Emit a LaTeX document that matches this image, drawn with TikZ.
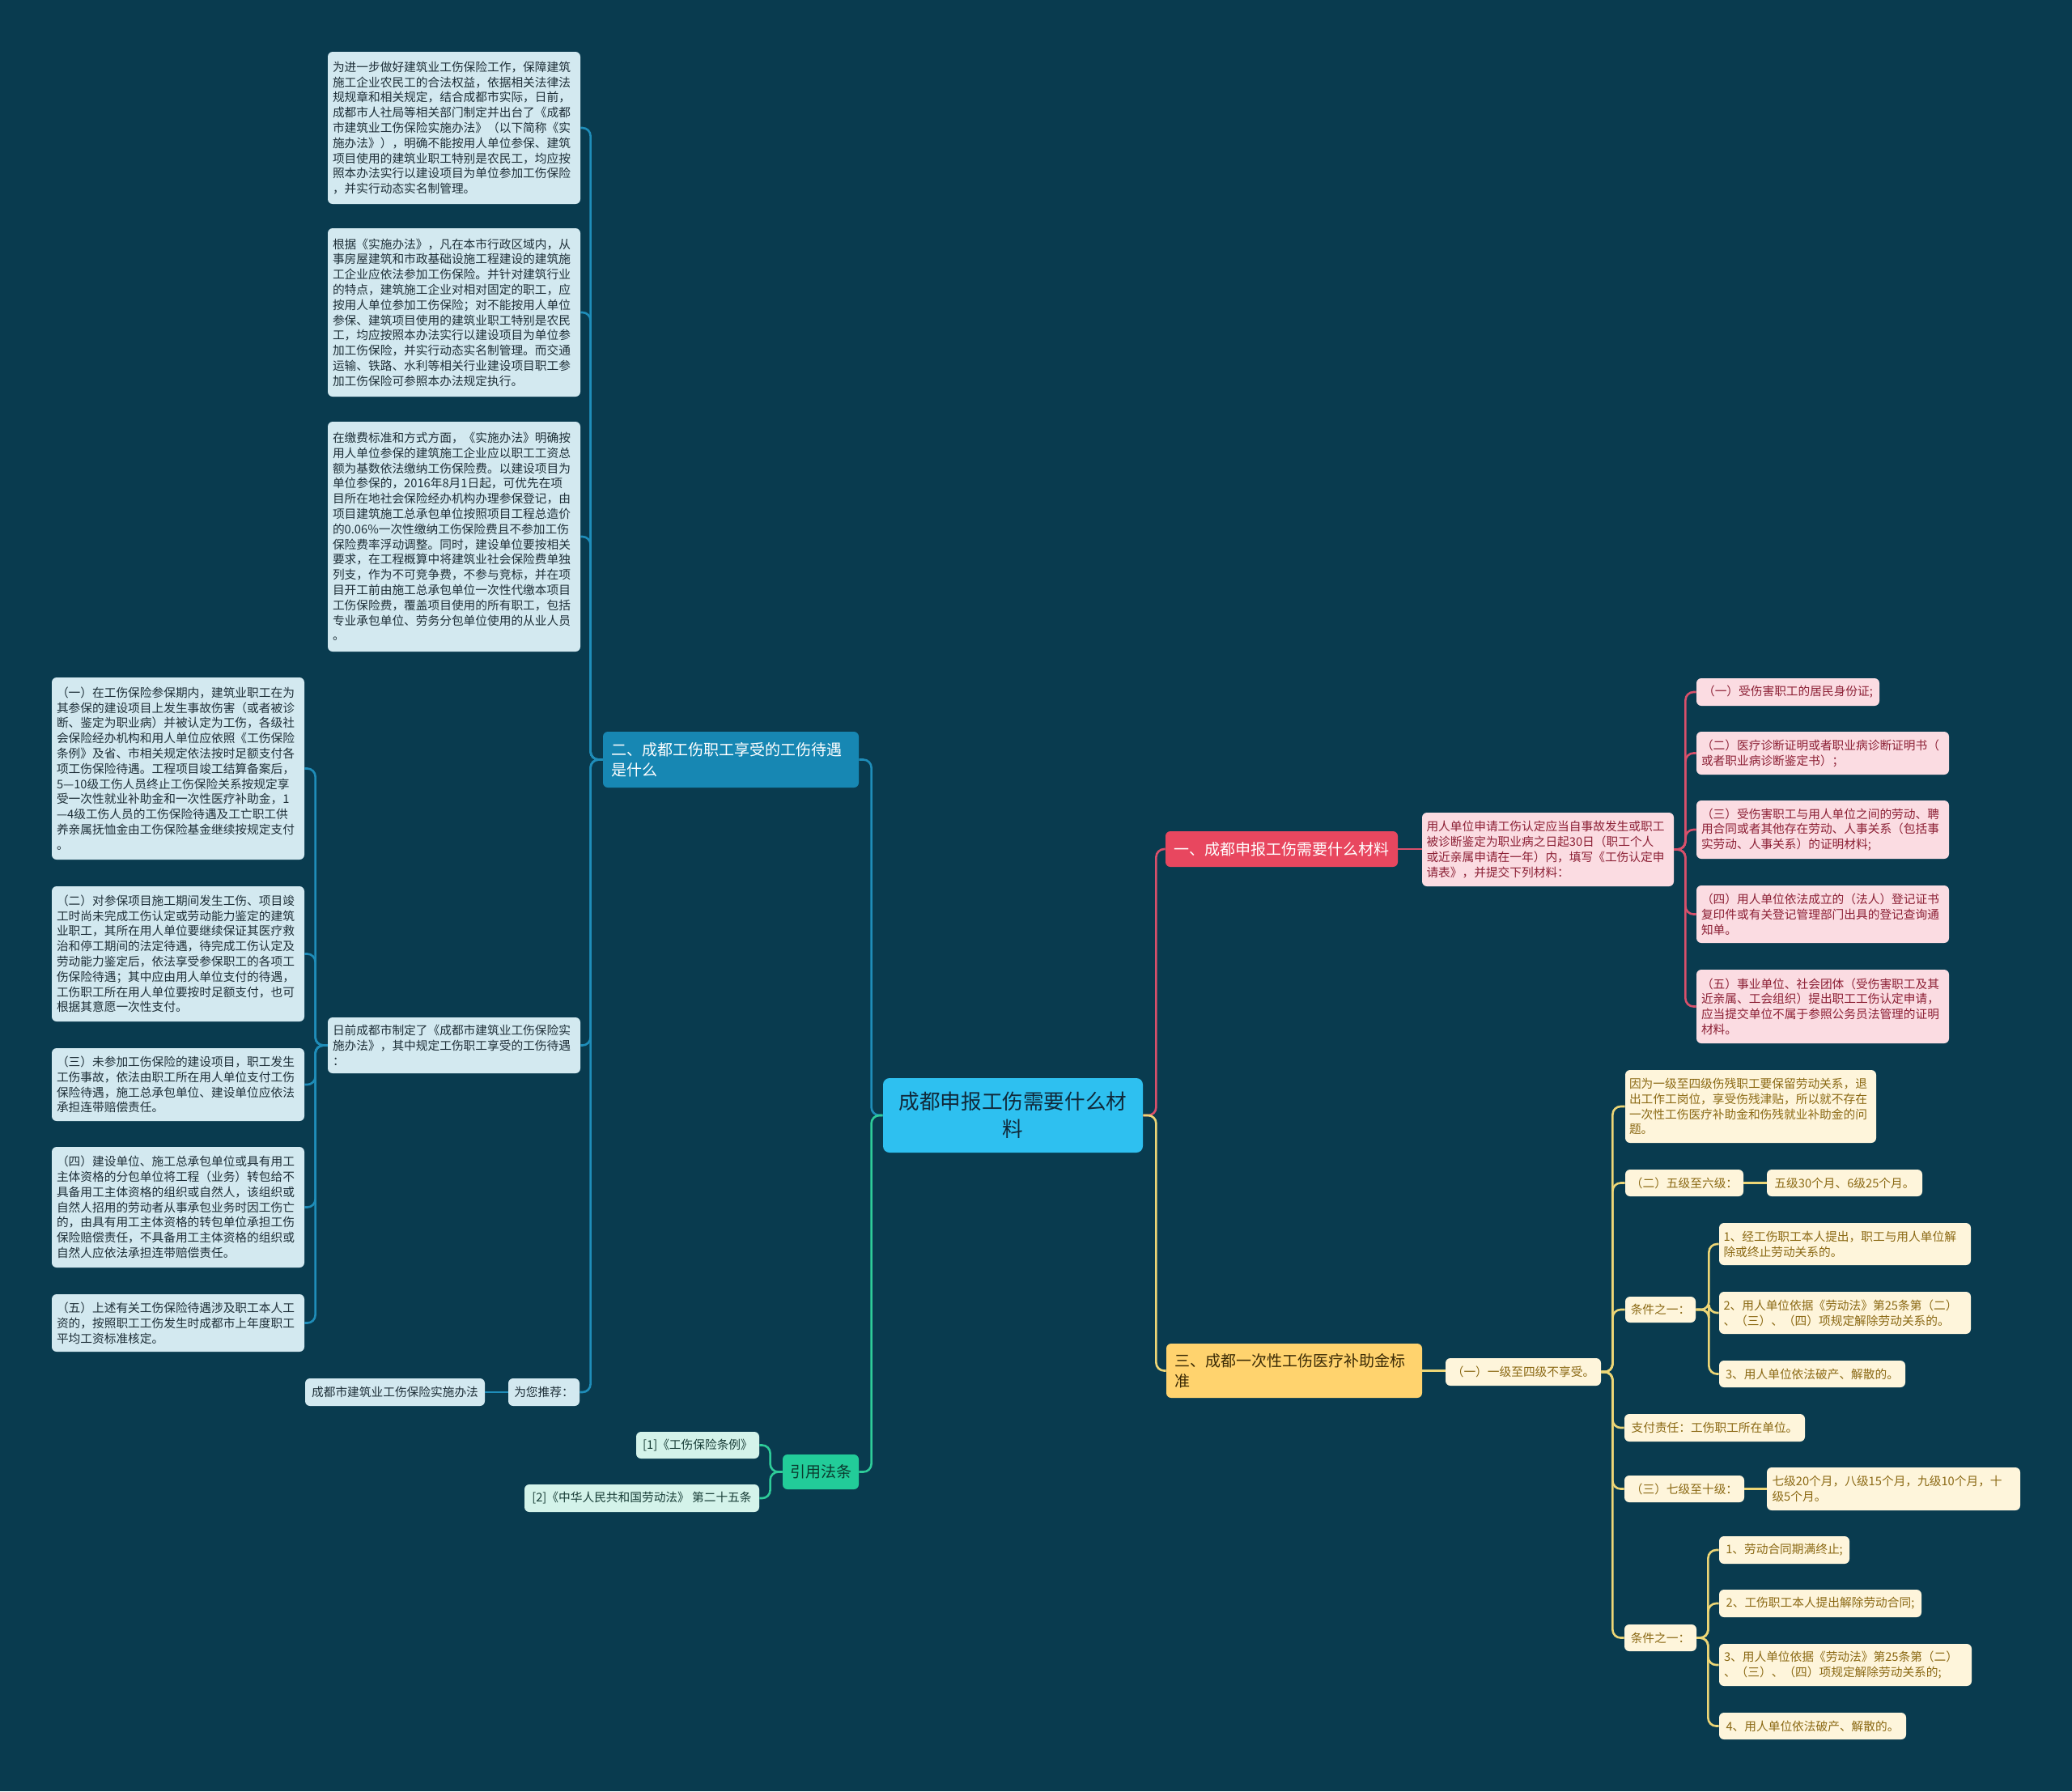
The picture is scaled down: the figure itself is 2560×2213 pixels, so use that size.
\documentclass[tikz,border=0pt]{standalone}
\usepackage{fontspec}
\newfontfamily\cjk{Noto Sans CJK SC}
\definecolor{bg}{HTML}{093B4F}
\definecolor{cenfill}{HTML}{2EC0F0}
\definecolor{centext}{HTML}{10293A}
\definecolor{bbfill}{HTML}{1787B3}
\definecolor{lbfill}{HTML}{D3E9F0}
\definecolor{lbtext}{HTML}{1E2F38}
\definecolor{bline}{HTML}{1F8DB9}
\definecolor{pkfill}{HTML}{E8475F}
\definecolor{lpfill}{HTML}{FBDCE2}
\definecolor{lptext}{HTML}{8C2035}
\definecolor{pline}{HTML}{D9506B}
\definecolor{ylfill}{HTML}{FFD36E}
\definecolor{yltext}{HTML}{3A2A05}
\definecolor{lyfill}{HTML}{FEF5DB}
\definecolor{lytext}{HTML}{8B6914}
\definecolor{yline}{HTML}{EDD676}
\definecolor{grfill}{HTML}{22CC99}
\definecolor{grtext}{HTML}{0B3B30}
\definecolor{lgfill}{HTML}{D4F3EA}
\definecolor{lgtext}{HTML}{173C36}
\definecolor{gline}{HTML}{2ECC99}
\tikzset{
  place/.style n args={4}{at={({(#1+#3)/2},{(#2+#4)/2})},minimum width={(#3-#1)*0.5pt},minimum height={(#4-#2)*0.5pt}},
  bx/.style={rounded corners=3pt,inner sep=2pt,font=\cjk\fontsize{7.35}{9.4}\selectfont},
  mline/.style={text width=150pt,align=left},
  sline/.style={align=center},
  lb/.style={bx,fill=lbfill,text=lbtext},
  lp/.style={bx,fill=lpfill,text=lptext},
  ly/.style={bx,fill=lyfill,text=lytext},
  lg/.style={bx,fill=lgfill,text=lgtext},
  brbox/.style={rounded corners=3pt,inner sep=2pt,font=\cjk\fontsize{9.5}{12.5}\selectfont},
  cen/.style={rounded corners=4pt,inner sep=2pt,fill=cenfill,text=centext,align=center,font=\cjk\fontsize{12.8}{17}\selectfont},
  conn/.style={line width=1.3pt,rounded corners=5pt},
  cbl/.style={conn,draw=bline},
  cpk/.style={conn,draw=pline},
  cyl/.style={conn,draw=yline},
  cgr/.style={conn,draw=gline}
}
\begin{document}
\begin{tikzpicture}[x=0.5pt,y=-0.5pt]
\fill[bg] (0,0) rectangle (2560,2213);
\useasboundingbox (0,0) rectangle (2560,2213);

% center
\node[cen,place={1091}{1332}{1412}{1424}] (C) {成都申报工伤需要什么材\\料};

% main branches
\node[brbox,fill=bbfill,text=white,text width=148pt,align=left,place={745}{904}{1061}{973}] (B2) {二、成都工伤职工享受的工伤待遇\\是什么};
\node[brbox,fill=pkfill,text=white,sline,place={1440}{1027}{1727}{1071}] (P1) {一、成都申报工伤需要什么材料};
\node[brbox,fill=ylfill,text=yltext,text width=148pt,align=left,place={1441}{1660}{1757}{1727}] (Y3) {三、成都一次性工伤医疗补助金标\\准};
\node[brbox,fill=grfill,text=grtext,sline,place={967}{1797}{1061}{1840}] (G) {引用法条};

% blue side
\node[lb,mline,place={405}{64}{717}{252}] (BA) {为进一步做好建筑业工伤保险工作，保障建筑\\施工企业农民工的合法权益，依据相关法律法\\规规章和相关规定，结合成都市实际，日前，\\成都市人社局等相关部门制定并出台了《成都\\市建筑业工伤保险实施办法》（以下简称《实\\施办法》），明确不能按用人单位参保、建筑\\项目使用的建筑业职工特别是农民工，均应按\\照本办法实行以建设项目为单位参加工伤保险\\，并实行动态实名制管理。};
\node[lb,mline,place={405}{282}{717}{490}] (BB) {根据《实施办法》，凡在本市行政区域内，从\\事房屋建筑和市政基础设施工程建设的建筑施\\工企业应依法参加工伤保险。并针对建筑行业\\的特点，建筑施工企业对相对固定的职工，应\\按用人单位参加工伤保险；对不能按用人单位\\参保、建筑项目使用的建筑业职工特别是农民\\工，均应按照本办法实行以建设项目为单位参\\加工伤保险，并实行动态实名制管理。而交通\\运输、铁路、水利等相关行业建设项目职工参\\加工伤保险可参照本办法规定执行。};
\node[lb,mline,place={405}{521}{717}{805}] (BC) {在缴费标准和方式方面，《实施办法》明确按\\用人单位参保的建筑施工企业应以职工工资总\\额为基数依法缴纳工伤保险费。以建设项目为\\单位参保的，2016年8月1日起，可优先在项\\目所在地社会保险经办机构办理参保登记，由\\项目建筑施工总承包单位按照项目工程总造价\\的0.06\%一次性缴纳工伤保险费且不参加工伤\\保险费率浮动调整。同时，建设单位要按相关\\要求，在工程概算中将建筑业社会保险费单独\\列支，作为不可竞争费，不参与竞标，并在项\\目开工前由施工总承包单位一次性代缴本项目\\工伤保险费，覆盖项目使用的所有职工，包括\\专业承包单位、劳务分包单位使用的从业人员\\。};
\node[lb,mline,place={405}{1257}{717}{1326}] (BD) {日前成都市制定了《成都市建筑业工伤保险实\\施办法》，其中规定工伤职工享受的工伤待遇\\：};
\node[lb,sline,place={628}{1703}{716}{1737}] (Rec) {为您推荐：};
\node[lb,sline,place={377}{1703}{599}{1737}] (Law) {成都市建筑业工伤保险实施办法};

\node[lb,mline,place={64}{837}{376}{1062}] (L1) {（一）在工伤保险参保期内，建筑业职工在为\\其参保的建设项目上发生事故伤害（或者被诊\\断、鉴定为职业病）并被认定为工伤，各级社\\会保险经办机构和用人单位应依照《工伤保险\\条例》及省、市相关规定依法按时足额支付各\\项工伤保险待遇。工程项目竣工结算备案后，\\5—10级工伤人员终止工伤保险关系按规定享\\受一次性就业补助金和一次性医疗补助金，1\\—4级工伤人员的工伤保险待遇及工亡职工供\\养亲属抚恤金由工伤保险基金继续按规定支付\\。};
\node[lb,mline,place={64}{1095}{376}{1262}] (L2) {（二）对参保项目施工期间发生工伤、项目竣\\工时尚未完成工伤认定或劳动能力鉴定的建筑\\业职工，其所在用人单位要继续保证其医疗救\\治和停工期间的法定待遇，待完成工伤认定及\\劳动能力鉴定后，依法享受参保职工的各项工\\伤保险待遇；其中应由用人单位支付的待遇，\\工伤职工所在用人单位要按时足额支付，也可\\根据其意愿一次性支付。};
\node[lb,mline,place={64}{1295}{376}{1385}] (L3) {（三）未参加工伤保险的建设项目，职工发生\\工伤事故，依法由职工所在用人单位支付工伤\\保险待遇，施工总承包单位、建设单位应依法\\承担连带赔偿责任。};
\node[lb,mline,place={64}{1417}{376}{1566}] (L4) {（四）建设单位、施工总承包单位或具有用工\\主体资格的分包单位将工程（业务）转包给不\\具备用工主体资格的组织或自然人，该组织或\\自然人招用的劳动者从事承包业务时因工伤亡\\的，由具有用工主体资格的转包单位承担工伤\\保险赔偿责任，不具备用工主体资格的组织或\\自然人应依法承担连带赔偿责任。};
\node[lb,mline,place={64}{1599}{376}{1670}] (L5) {（五）上述有关工伤保险待遇涉及职工本人工\\资的，按照职工工伤发生时成都市上年度职工\\平均工资标准核定。};

% green
\node[lg,sline,place={786}{1769}{938}{1802}] (G1) {[1]《工伤保险条例》};
\node[lg,sline,place={648}{1834}{938}{1868}] (G2) {[2]《中华人民共和国劳动法》 第二十五条};

% pink
\node[lp,mline,place={1757}{1004}{2068}{1095}] (PD) {用人单位申请工伤认定应当自事故发生或职工\\被诊断鉴定为职业病之日起30日（职工个人\\或近亲属申请在一年）内，填写《工伤认定申\\请表》，并提交下列材料：};
\node[lp,sline,place={2096}{838}{2322}{872}] (Pa) {（一）受伤害职工的居民身份证;};
\node[lp,mline,place={2096}{904}{2408}{957}] (Pb) {（二）医疗诊断证明或者职业病诊断证明书（\\或者职业病诊断鉴定书）；};
\node[lp,mline,place={2096}{989}{2408}{1061}] (Pc) {（三）受伤害职工与用人单位之间的劳动、聘\\用合同或者其他存在劳动、人事关系（包括事\\实劳动、人事关系）的证明材料;};
\node[lp,mline,place={2096}{1094}{2408}{1165}] (Pd) {（四）用人单位依法成立的（法人）登记证书\\复印件或有关登记管理部门出具的登记查询通\\知单。};
\node[lp,mline,place={2096}{1198}{2408}{1289}] (Pe) {（五）事业单位、社会团体（受伤害职工及其\\近亲属、工会组织）提出职工工伤认定申请，\\应当提交单位不属于参照公务员法管理的证明\\材料。};

% yellow
\node[ly,sline,place={1786}{1678}{1978}{1712}] (Y1) {（一）一级至四级不享受。};
\node[ly,mline,place={2008}{1322}{2318}{1412}] (Ya) {因为一级至四级伤残职工要保留劳动关系，退\\出工作工岗位，享受伤残津贴，所以就不存在\\一次性工伤医疗补助金和伤残就业补助金的问\\题。};
\node[ly,sline,place={2008}{1445}{2154}{1478}] (Yb) {（二）五级至六级：};
\node[ly,sline,place={2183}{1445}{2375}{1478}] (Yb2) {五级30个月、6级25个月。};
\node[ly,sline,place={2008}{1602}{2095}{1634}] (Yc) {条件之一：};
\node[ly,mline,place={2124}{1511}{2435}{1563}] (Yc1) {1、经工伤职工本人提出，职工与用人单位解\\除或终止劳动关系的。};
\node[ly,mline,place={2124}{1596}{2435}{1648}] (Yc2) {2、用人单位依据《劳动法》第25条第（二）\\、（三）、（四）项规定解除劳动关系的。};
\node[ly,sline,place={2124}{1681}{2354}{1714}] (Yc3) {3、用人单位依法破产、解散的。};
\node[ly,sline,place={2007}{1747}{2230}{1781}] (Yd) {支付责任：工伤职工所在单位。};
\node[ly,sline,place={2007}{1823}{2155}{1856}] (Ye) {（三）七级至十级：};
\node[ly,mline,place={2183}{1813}{2496}{1866}] (Ye2) {七级20个月，八级15个月，九级10个月，十\\级5个月。};
\node[ly,sline,place={2007}{2007}{2096}{2040}] (Yf) {条件之一：};
\node[ly,sline,place={2124}{1898}{2285}{1932}] (Yf1) {1、劳动合同期满终止;};
\node[ly,sline,place={2124}{1964}{2374}{1998}] (Yf2) {2、工伤职工本人提出解除劳动合同;};
\node[ly,mline,place={2124}{2031}{2436}{2083}] (Yf3) {3、用人单位依据《劳动法》第25条第（二）\\、（三）、（四）项规定解除劳动关系的;};
\node[ly,sline,place={2124}{2116}{2355}{2149}] (Yf4) {4、用人单位依法破产、解散的。};

% connectors
\draw[cbl] (C.west) -- ++(-14,0) |- (B2.east);
\draw[cgr] (C.west) -- ++(-14,0) |- (G.east);
\draw[cpk] (C.east) -- ++(16,0) |- (P1.west);
\draw[cyl] (C.east) -- ++(16,0) |- (Y3.west);

\foreach \n in {BA,BB,BC,BD,Rec} \draw[cbl] (B2.west) -- ++(-15,0) |- (\n.east);
\foreach \n in {L1,L2,L3,L4,L5} \draw[cbl] (BD.west) -- ++(-15,0) |- (\n.east);
\draw[cbl] (Rec.west) -- (Law.east);
\foreach \n in {G1,G2} \draw[cgr] (G.west) -- ++(-15,0) |- (\n.east);

\draw[cpk] (P1.east) -- (P1.east -| PD.west);
\foreach \n in {Pa,Pb,Pc,Pd,Pe} \draw[cpk] (PD.east) -- ++(14,0) |- (\n.west);

\draw[cyl] (Y3.east) -- (Y3.east -| Y1.west);
\foreach \n in {Ya,Yb,Yc,Yd,Ye,Yf} \draw[cyl] (Y1.east) -- ++(14,0) |- (\n.west);
\draw[cyl] (Yb.east) -- (Yb2.west);
\draw[cyl] (Ye.east) -- (Ye2.west);
\foreach \n in {Yc1,Yc2,Yc3} \draw[cyl] (Yc.east) -- ++(16,0) |- (\n.west);
\foreach \n in {Yf1,Yf2,Yf3,Yf4} \draw[cyl] (Yf.east) -- ++(14,0) |- (\n.west);
\end{tikzpicture}
\end{document}
